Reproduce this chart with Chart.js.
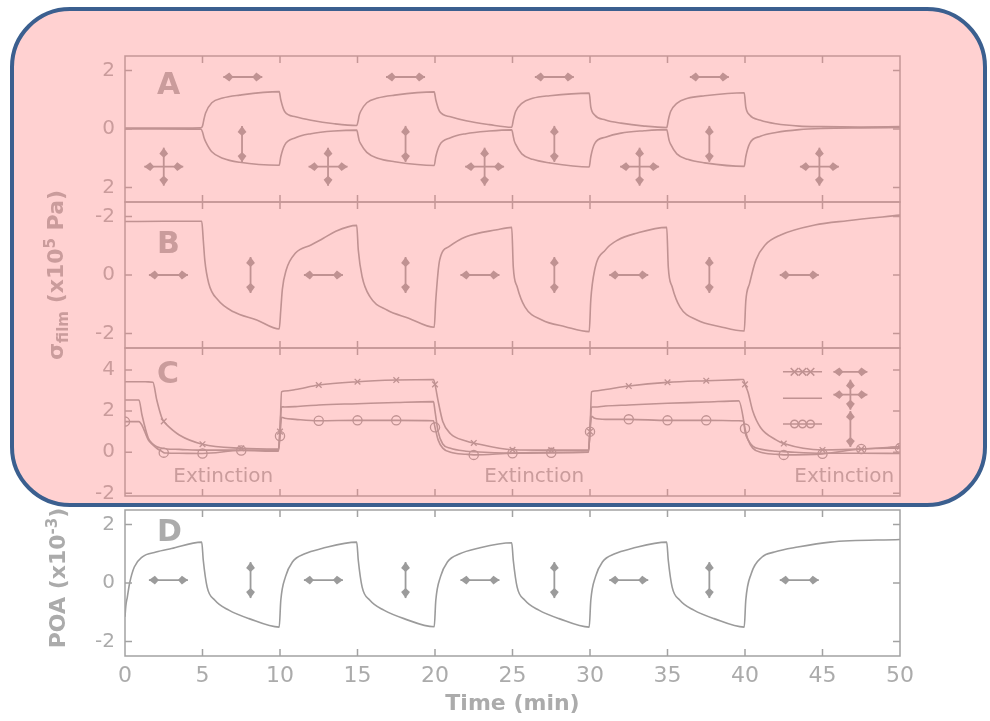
<!DOCTYPE html>
<html><head><meta charset="utf-8">
<script src="https://cdn.jsdelivr.net/npm/chart.js@4/dist/chart.umd.min.js"></script>
<style>
html,body{margin:0;padding:0;background:#fff;}
#wrap{position:relative;width:990px;height:721px;overflow:hidden;background:#fff;}
canvas{position:absolute;left:0;top:0;}
.ylab{position:absolute;font-family:'DejaVu Sans',sans-serif;font-weight:bold;font-size:22px;color:#ababab;white-space:nowrap;transform:translate(-50%,-50%) rotate(-90deg);line-height:1;}
.ylab sub,.ylab sup{font-size:15px;}
#overlay{position:absolute;left:10px;top:7px;width:977px;height:500px;box-sizing:border-box;border:4px solid #3b5f8f;border-radius:60px;background:rgba(255,130,130,0.37);}
</style></head>
<body>
<div id="wrap">
<canvas id="cA" width="990" height="721"></canvas>
<canvas id="cB" width="990" height="721"></canvas>
<canvas id="cC" width="990" height="721"></canvas>
<canvas id="cD" width="990" height="721"></canvas>
<div class="ylab" style="left:57px;top:275px;">σ<sub>film</sub> (x10<sup>5</sup> Pa)</div>
<div class="ylab" style="left:57px;top:578px;">POA (x10<sup>-3</sup>)</div>
<div id="overlay"></div>
</div>
<script>
// ---------------- data ----------------
const xTicks = [0, 5, 10, 15, 20, 25, 30, 35, 40, 45, 50];
const xTickLabels = ['0', '5', '10', '15', '20', '25', '30', '35', '40', '45', '50'];

const yTicksA = [-2, 0, 2];      const yLabelsA = ['2', '0', '2'];
const yTicksB = [-2, 0, 2];      const yLabelsB = ['-2', '0', '-2'];
const yTicksC = [-2, 0, 2, 4];   const yLabelsC = ['-2', '0', '2', '4'];
const yTicksD = [-2, 0, 2];      const yLabelsD = ['-2', '0', '2'];

// Panel A: two branches of film stress
const timeA = [0, 2, 4.9, 5, 5.1, 5.2, 5.6, 6.3, 7.4, 9.95, 10.05, 10.3, 11, 12, 13.5, 14.95,
  15.05, 15.1, 15.2, 15.6, 16.3, 17.4, 19.95, 20.05, 20.3, 21, 22, 23.5, 24.95,
  25.05, 25.1, 25.2, 25.6, 26.3, 27.4, 29.95, 30.05, 30.3, 31, 32, 33.5, 34.95,
  35.05, 35.1, 35.2, 35.6, 36.3, 37.4, 39.95, 40.05, 40.3, 41, 42, 43.5, 45, 47.5, 50];
const aUpper = [0.03, 0.03, 0.04, 0.1, 0.35, 0.55, 0.9, 1.06, 1.16, 1.28, 1.0, 0.6, 0.42, 0.3, 0.18, 0.12,
  0.3, 0.45, 0.6, 0.9, 1.06, 1.16, 1.27, 1.0, 0.6, 0.42, 0.28, 0.15, 0.06,
  0.3, 0.42, 0.6, 0.88, 1.05, 1.14, 1.23, 0.76, 0.48, 0.31, 0.2, 0.1, 0.05,
  0.3, 0.42, 0.6, 0.88, 1.05, 1.14, 1.24, 0.76, 0.48, 0.3, 0.18, 0.1, 0.08, 0.07, 0.08];
const aLower = [0, 0, -0.01, -0.1, -0.3, -0.43, -0.78, -1.0, -1.14, -1.24, -0.95, -0.55, -0.3, -0.16, -0.07, -0.04,
  -0.25, -0.38, -0.5, -0.8, -1.0, -1.12, -1.25, -0.95, -0.55, -0.3, -0.16, -0.07, -0.03,
  -0.25, -0.38, -0.52, -0.85, -1.04, -1.16, -1.3, -0.95, -0.5, -0.28, -0.14, -0.06, -0.02,
  -0.25, -0.38, -0.52, -0.85, -1.04, -1.16, -1.28, -0.95, -0.5, -0.25, -0.12, -0.02, 0.02, 0.04, 0.05];

// Panel B
const timeB = [0, 2.5, 4.95, 5.05, 5.15, 5.4, 6, 7, 8.5, 9.95, 10.05, 10.15, 10.4, 11, 12, 12.8, 13.6, 14.95,
  15.05, 15.3, 15.8, 16.9, 18.3, 19.95, 20.05, 20.3, 20.9, 22, 24, 24.95,
  25.05, 25.3, 25.8, 26.9, 28.4, 29.95, 30.05, 30.3, 31, 31.8, 33, 34.95,
  35.05, 35.3, 35.8, 36.9, 38.4, 39.95, 40.05, 40.3, 40.7, 41.3, 42.3, 44.5, 46.6, 50];
const bStress = [1.83, 1.84, 1.84, 1.2, 0.5, -0.28, -0.86, -1.26, -1.54, -1.85, -1.2, -0.5, 0.17, 0.75, 1.03, 1.26, 1.5, 1.7,
  0.86, -0.06, -0.74, -1.2, -1.48, -1.79, -0.86, 0.51, 0.97, 1.31, 1.55, 1.63,
  0.28, -0.4, -1.09, -1.54, -1.77, -1.94, -0.86, 0.17, 0.86, 1.2, 1.43, 1.63,
  0.28, -0.4, -1.09, -1.54, -1.77, -1.92, -0.9, -0.28, 0.51, 1.03, 1.37, 1.71, 1.86, 2.05];

// Panel C: three polarisation cases
const timeC = [0, 0.9, 1.1, 1.5, 1.8, 2.05, 2.35, 2.5, 2.7, 3.5, 5, 7.5, 9.9,
  10, 10.1, 10.3, 11, 12.5, 15, 17.5, 19.9, 20, 20.2, 20.5, 21, 22, 22.5, 25, 27.5, 29.9,
  30, 30.1, 30.3, 31, 32.5, 35, 37.5, 39.6, 39.9, 40, 40.2, 40.5, 41, 42, 42.5, 45, 47.5, 50];
const cCrossed = [3.43, 3.43, 3.43, 3.42, 3.4, 2.54, 1.73, 1.5, 1.33, 0.84, 0.39, 0.19, 0.15,
  1.0, 2.94, 2.98, 3.05, 3.27, 3.43, 3.51, 3.54, 3.3, 2.5, 1.5, 0.9, 0.55, 0.45, 0.12, 0.1, 0.1,
  1.0, 2.94, 2.98, 3.05, 3.22, 3.4, 3.48, 3.53, 3.54, 3.3, 2.9, 2.0, 1.2, 0.6, 0.42, 0.11, 0.15, 0.27];
const cPlain = [2.54, 2.54, 1.8, 0.69, 0.4, 0.27, 0.2, 0.18, 0.16, 0.14, 0.1, 0.1, 0.1,
  1.2, 2.21, 2.2, 2.22, 2.3, 2.36, 2.42, 2.46, 2.0, 1.0, 0.4, 0.19, 0.05, 0.02, -0.04, 0.0, 0.02,
  1.2, 2.2, 2.2, 2.25, 2.3, 2.38, 2.44, 2.5, 1.6, 1.0, 0.6, 0.3, 0.15, 0.05, 0.03, -0.05, -0.05, -0.06];
const cCircled = [1.49, 1.49, 1.3, 0.6, 0.35, 0.19, 0.05, -0.02, -0.04, -0.05, -0.06, 0.08, 0.05,
  0.79, 1.7, 1.65, 1.6, 1.53, 1.55, 1.55, 1.53, 1.21, 0.6, 0.2, 0.0, -0.1, -0.13, -0.05, -0.03, 0.0,
  1.0, 1.75, 1.65, 1.6, 1.6, 1.55, 1.55, 1.53, 1.52, 1.15, 0.6, 0.2, 0.0, -0.1, -0.13, -0.08, 0.16, 0.2];

// Panel D: POA
const timeD = [0, 0.05, 0.15, 0.3, 0.6, 1.1, 2, 3, 4.95,
  5.05, 5.3, 5.8, 6.7, 8, 9.95, 10.05, 10.35, 10.8, 11.6, 12.7, 14.95,
  15.05, 15.3, 15.8, 16.7, 18, 19.95, 20.05, 20.35, 20.8, 21.6, 22.7, 24.95,
  25.05, 25.3, 25.8, 26.7, 28, 29.95, 30.05, 30.35, 30.8, 31.6, 32.7, 34.95,
  35.05, 35.3, 35.8, 36.7, 38, 39.95, 40.05, 40.4, 41.1, 41.9, 43.4, 45.5, 50];
const dPOA = [-1.16, -0.8, -0.48, 0.0, 0.55, 0.89, 1.06, 1.18, 1.4,
  0.78, -0.14, -0.59, -0.93, -1.22, -1.51, -0.6, 0.21, 0.72, 1.0, 1.18, 1.4,
  0.78, -0.14, -0.59, -0.93, -1.22, -1.5, -0.6, 0.21, 0.72, 1.0, 1.18, 1.38,
  0.78, -0.14, -0.59, -0.93, -1.22, -1.51, -0.6, 0.21, 0.72, 1.0, 1.18, 1.4,
  0.78, -0.14, -0.59, -0.93, -1.22, -1.51, -0.59, 0.32, 0.89, 1.06, 1.23, 1.4, 1.49];

const extinctionText = 'Extinction';
const legendSymbols = ['crossRot', 'none', 'circle'];

// annotation symbols (polarisation arrows), placed in data units
const arrowsA = [
  {k: 'h', t: 7.6, v: 1.78}, {k: 'h', t: 18.1, v: 1.78}, {k: 'h', t: 27.7, v: 1.78}, {k: 'h', t: 37.7, v: 1.78},
  {k: 'v', t: 7.55, v: -0.51}, {k: 'v', t: 18.1, v: -0.51}, {k: 'v', t: 27.7, v: -0.51}, {k: 'v', t: 37.7, v: -0.51},
  {k: 'x', t: 2.5, v: -1.29}, {k: 'x', t: 13.1, v: -1.29}, {k: 'x', t: 23.2, v: -1.29}, {k: 'x', t: 33.2, v: -1.29}, {k: 'x', t: 44.8, v: -1.29}];
const arrowsB = [
  {k: 'h', t: 2.8, v: 0}, {k: 'h', t: 12.8, v: 0}, {k: 'h', t: 22.9, v: 0}, {k: 'h', t: 32.5, v: 0}, {k: 'h', t: 43.5, v: 0},
  {k: 'v', t: 8.1, v: 0}, {k: 'v', t: 18.1, v: 0}, {k: 'v', t: 27.7, v: 0}, {k: 'v', t: 37.7, v: 0}];
const arrowsC = [{k: 'hs', t: 46.8, v: 3.91}, {k: 'xs', t: 46.8, v: 2.8}, {k: 'v', t: 46.8, v: 1.13}];
const arrowsD = [
  {k: 'h', t: 2.8, v: 0.1}, {k: 'h', t: 12.8, v: 0.1}, {k: 'h', t: 22.9, v: 0.1}, {k: 'h', t: 32.5, v: 0.1}, {k: 'h', t: 43.5, v: 0.1},
  {k: 'v', t: 8.1, v: 0.1}, {k: 'v', t: 18.1, v: 0.1}, {k: 'v', t: 27.7, v: 0.1}, {k: 'v', t: 37.7, v: 0.1}];

// ---------------- style ----------------
const LINE = '#9b9b9b';
const FRAME = '#a2a2a2';
const TEXT = '#ababab';
const FONT = "'DejaVu Sans', sans-serif";

function head(ctx, x, y, dx, dy) {
  const L = 10, W = 4.4, M = 6;
  const px = -dy, py = dx;
  ctx.beginPath();
  ctx.moveTo(x, y);
  ctx.lineTo(x - dx * M + px * W, y - dy * M + py * W);
  ctx.lineTo(x - dx * L, y - dy * L);
  ctx.lineTo(x - dx * M - px * W, y - dy * M - py * W);
  ctx.closePath();
  ctx.fill();
}
function dbl(ctx, x1, y1, x2, y2) {
  const len = Math.hypot(x2 - x1, y2 - y1), dx = (x2 - x1) / len, dy = (y2 - y1) / len;
  ctx.beginPath(); ctx.moveTo(x1, y1); ctx.lineTo(x2, y2); ctx.stroke();
  head(ctx, x2, y2, dx, dy);
  head(ctx, x1, y1, -dx, -dy);
}
function drawSymbol(ctx, k, cx, cy) {
  if (k === 'h') dbl(ctx, cx - 19.5, cy, cx + 19.5, cy);
  else if (k === 'hs') dbl(ctx, cx - 17, cy, cx + 17, cy);
  else if (k === 'v') dbl(ctx, cx, cy - 18, cx, cy + 18);
  else if (k === 'x') { dbl(ctx, cx - 19.5, cy, cx + 19.5, cy); dbl(ctx, cx, cy - 19, cx, cy + 19); }
  else if (k === 'xs') { dbl(ctx, cx - 17, cy, cx + 17, cy); dbl(ctx, cx, cy - 15, cx, cy + 15); }
}
function marker(ctx, style, x, y, r) {
  ctx.beginPath();
  if (style === 'circle') { ctx.arc(x, y, r, 0, Math.PI * 2); }
  else if (style === 'crossRot') { ctx.moveTo(x - r, y - r); ctx.lineTo(x + r, y + r); ctx.moveTo(x + r, y - r); ctx.lineTo(x - r, y + r); }
  ctx.stroke();
}

const decorPlugin = {
  id: 'decor',
  afterDraw(chart, args, o) {
    const ctx = chart.ctx, a = chart.chartArea, xs = chart.scales.x, ys = chart.scales.y;
    ctx.save();
    ctx.strokeStyle = FRAME; ctx.lineWidth = 1.5;
    ctx.strokeRect(a.left, a.top, a.width, a.height);
    ctx.beginPath();
    xTicks.forEach(v => {
      if (v <= 0 || v >= 50) return;
      const px = xs.getPixelForValue(v);
      ctx.moveTo(px, a.top); ctx.lineTo(px, a.top + 7);
      ctx.moveTo(px, a.bottom); ctx.lineTo(px, a.bottom - 7);
    });
    (o.yTicks || []).forEach(v => {
      const py = ys.getPixelForValue(v);
      ctx.moveTo(a.left, py); ctx.lineTo(a.left + 7, py);
      ctx.moveTo(a.right, py); ctx.lineTo(a.right - 7, py);
    });
    ctx.stroke();
    // panel letter
    ctx.fillStyle = TEXT;
    ctx.font = 'bold 30px ' + FONT;
    ctx.textAlign = 'left'; ctx.textBaseline = 'alphabetic';
    ctx.fillText(o.letter, a.left + 32, a.top + o.letterBase);
    // arrows
    ctx.strokeStyle = LINE; ctx.fillStyle = LINE; ctx.lineWidth = 1.8;
    (o.arrows || []).forEach(s => drawSymbol(ctx, s.k, xs.getPixelForValue(s.t), ys.getPixelForValue(s.v)));
    // texts
    ctx.fillStyle = TEXT; ctx.font = '20px ' + FONT; ctx.textAlign = 'center';
    (o.texts || []).forEach(s => ctx.fillText(s.text, xs.getPixelForValue(s.t), ys.getPixelForValue(s.v)));
    // legend
    if (o.legend) {
      ctx.strokeStyle = LINE; ctx.lineWidth = 1.5;
      o.legend.rows.forEach((v, i) => {
        const py = ys.getPixelForValue(v);
        const x0 = xs.getPixelForValue(o.legend.t0), x1 = xs.getPixelForValue(o.legend.t1);
        ctx.beginPath(); ctx.moveTo(x0, py); ctx.lineTo(x1, py); ctx.stroke();
        const sym = legendSymbols[i];
        if (sym !== 'none') {
          const mid = (x0 + x1) / 2;
          [-8, 0, 8].forEach(d => marker(ctx, sym, mid + d, py, 3.8));
        }
      });
    }
    ctx.restore();
  }
};

function series(times, values, extra) {
  return Object.assign({
    data: times.map((t, i) => ({x: t, y: values[i]})),
    showLine: true, borderColor: LINE, borderWidth: 1.6, pointRadius: 0,
    pointHoverRadius: 0, fill: false, cubicInterpolationMode: 'monotone'
  }, extra || {});
}

function makeChart(id, cfg) {
  const yTicks = cfg.yTicks, yLabels = cfg.yLabels;
  return new Chart(document.getElementById(id), {
    type: 'scatter',
    data: {datasets: cfg.datasets},
    plugins: [decorPlugin],
    options: {
      responsive: false, animation: false, devicePixelRatio: 1,
      events: [],
      layout: {padding: {left: 0, right: 90, top: cfg.top, bottom: cfg.bottom}},
      scales: {
        x: {
          type: 'linear', min: 0, max: 50, display: !!cfg.showX,
          afterBuildTicks: s => { s.ticks = xTicks.map(v => ({value: v})); },
          afterFit: s => { if (cfg.showX) s.height = 65; },
          grid: {display: false, drawTicks: false}, border: {display: false},
          ticks: {color: TEXT, font: {family: FONT, size: 22}, padding: 7, maxRotation: 0,
                  callback: (v, i) => xTickLabels[i]},
          title: {display: !!cfg.showX, text: 'Time (min)', color: TEXT,
                  font: {family: FONT, size: 22, weight: 'bold'}, padding: {top: 0, bottom: 4}}
        },
        y: {
          type: 'linear', min: cfg.yMin, max: cfg.yMax,
          afterBuildTicks: s => { s.ticks = yTicks.map(v => ({value: v})); },
          afterFit: s => { s.width = 125; },
          grid: {display: false, drawTicks: false}, border: {display: false},
          ticks: {color: TEXT, font: {family: FONT, size: 20}, padding: 10,
                  callback: (v, i) => yLabels[i]}
        }
      },
      plugins: {
        legend: {display: false}, tooltip: {enabled: false},
        decor: cfg.decor
      }
    }
  });
}

makeChart('cA', {
  top: 56, bottom: 721 - 202, yMin: -2.5, yMax: 2.5, yTicks: yTicksA, yLabels: yLabelsA,
  datasets: [series(timeA, aUpper), series(timeA, aLower)],
  decor: {yTicks: yTicksA, letter: 'A', letterBase: 38, arrows: arrowsA}
});
makeChart('cB', {
  top: 202, bottom: 721 - 348, yMin: -2.5, yMax: 2.5, yTicks: yTicksB, yLabels: yLabelsB,
  datasets: [series(timeB, bStress)],
  decor: {yTicks: yTicksB, letter: 'B', letterBase: 51, arrows: arrowsB}
});
makeChart('cC', {
  top: 348, bottom: 721 - 496, yMin: -2.13, yMax: 5.07, yTicks: yTicksC, yLabels: yLabelsC,
  datasets: [
    series(timeC, cCrossed, {pointStyle: 'crossRot', pointRadius: c => (timeC[c.dataIndex] > 0 && timeC[c.dataIndex] % 2.5 === 0 ? 4 : 0),
      pointBorderColor: LINE, pointBorderWidth: 1.3, pointBackgroundColor: 'rgba(0,0,0,0)'}),
    series(timeC, cPlain),
    series(timeC, cCircled, {pointStyle: 'circle', pointRadius: c => (timeC[c.dataIndex] % 2.5 === 0 ? 4.6 : 0),
      pointBorderColor: LINE, pointBorderWidth: 1.3, pointBackgroundColor: 'rgba(0,0,0,0)'})
  ],
  decor: {yTicks: yTicksC, letter: 'C', letterBase: 35, arrows: arrowsC,
    texts: [{t: 6.34, v: -1.43, text: extinctionText}, {t: 26.4, v: -1.43, text: extinctionText}, {t: 46.4, v: -1.43, text: extinctionText}],
    legend: {t0: 42.45, t1: 44.97, rows: [3.91, 2.62, 1.37]}}
});
makeChart('cD', {
  top: 510, bottom: 0, yMin: -2.5, yMax: 2.5, yTicks: yTicksD, yLabels: yLabelsD, showX: true,
  datasets: [series(timeD, dPOA)],
  decor: {yTicks: yTicksD, letter: 'D', letterBase: 31, arrows: arrowsD}
});
</script>
</body></html>
